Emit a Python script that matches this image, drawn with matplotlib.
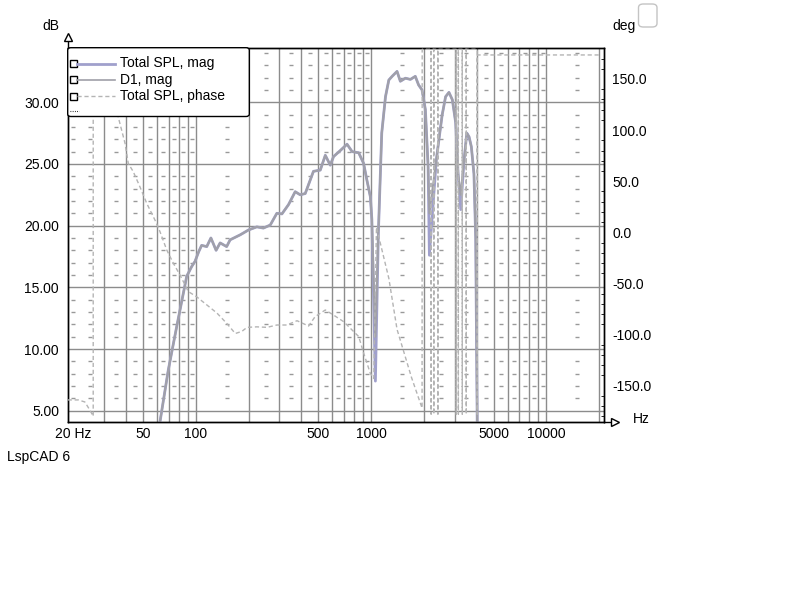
import matplotlib
matplotlib.use("Agg")
import matplotlib.pyplot as plt
from matplotlib.lines import Line2D
from matplotlib.patches import FancyBboxPatch, Rectangle
from matplotlib.ticker import NullLocator, FixedLocator

plt.rcParams["font.family"] = ["Liberation Sans", "DejaVu Sans"]

# Total SPL, mag (dB)
freq = [60, 62.5, 69.7, 77.8, 88.8, 94.9, 99, 104, 108, 115.5, 122, 130.6, 137.7, 150,
        157, 179, 200, 223, 243, 266, 290, 310, 338, 369, 394, 421, 469, 513, 548, 585,
        611, 669, 729, 779, 850, 906, 946, 990, 1010, 1058, 1100, 1150, 1208, 1262, 1318,
        1406, 1468, 1570, 1675, 1787, 1866, 1952, 2040, 2114, 2150, 2354, 2433, 2543,
        2660, 2780, 2907, 3040, 3133, 3246, 3390, 3514, 3620, 3730, 3860, 3950, 4000, 4040]
total_db = [3.0, 4.1, 8.3, 11.8, 15.9, 16.7, 17.1, 17.9, 18.4, 18.3, 19.0, 18.0, 18.6, 18.3,
            18.85, 19.25, 19.65, 19.9, 19.8, 20.05, 21.0, 20.95, 21.7, 22.75, 22.5, 22.6, 24.4,
            24.5, 25.7, 24.9, 25.6, 26.1, 26.6, 26.0, 25.9, 25.05, 23.7, 22.35, 20.5, 7.4,
            19.4, 27.5, 30.45, 31.8, 32.1, 32.5, 31.7, 31.95, 31.85, 32.1, 31.4, 31.0, 29.4,
            24.8, 17.6, 25.3, 26.9, 28.97, 30.45, 30.8, 30.2, 28.3, 24.25, 21.3, 25.3, 27.5,
            27.2, 26.4, 24.2, 19.0, 9.4, 2.0]
# D1, mag (dB)
d1_db = [3.0, 4.1, 8.3, 11.8, 15.9, 16.7, 17.1, 17.9, 18.4, 18.3, 19.0, 18.0, 18.6, 18.3,
         18.85, 19.25, 19.65, 19.9, 19.8, 20.05, 21.0, 20.95, 21.7, 22.75, 22.5, 22.6, 24.4,
         24.5, 25.7, 24.9, 25.6, 26.1, 26.6, 26.0, 25.9, 25.05, 23.7, 22.35, 20.5, 11.0,
         19.4, 27.5, 30.45, 31.8, 32.1, 32.5, 31.7, 31.95, 31.85, 32.1, 31.4, 31.0, 29.4,
         24.8, 21.0, 25.3, 26.9, 28.97, 30.45, 30.8, 30.2, 28.3, 24.25, 22.5, 25.3, 27.5,
         27.2, 26.4, 24.2, 19.0, 9.4, 2.0]

# Total SPL, phase (deg)
phase_freq = [18.6, 19.8, 21.4, 23.3, 24.9, 26.0, 26.0, 30, 34, 36.1, 39.5, 41.2, 44, 48,
              52.5, 58.5, 62.5, 68.3, 74.5, 81.3, 90.7, 101, 115.5, 132, 150, 168, 183, 196,
              223, 255, 290, 331, 378, 440, 479, 548, 611, 698, 779, 850, 906, 990, 1036,
              1073, 1262, 1406, 1700, 1953, 1956, 2195, 2200, 2202, 2275, 2280, 2282, 2400,
              2405, 2407, 3055, 3060, 3062, 3140, 3145, 3147, 3305, 3311, 3313, 3485, 3490,
              3492, 4028, 4032, 4034, 20000]
phase_deg = [-164, -164, -164, -166, -174, -180, 180, 165, 135, 113, 87, 67.5, 59.3, 44.6,
             28.4, 12, 0.6, -17.3, -30.3, -41.8, -58, -63, -71, -79, -89, -99, -97, -93,
             -92.5, -93, -90.7, -90.7, -86.5, -91.7, -82.6, -76, -81, -87.5, -95.6, -102,
             -118, -138, -143, 5, -45, -95, -142, -172, 179, 179, -178, 179, 179, -178, 179,
             179, -178, 179, 179, -178, 179, 179, -178, 179, 179, -178, 179, 179, -178, 179,
             179, -178, 173.5, 173.5]

db_ticks = [5, 10, 15, 20, 25, 30]
deg_ticks = [-150, -100, -50, 0, 50, 100, 150]
x_tick_freqs = [20, 50, 100, 500, 1000, 5000, 10000]
x_tick_labels = ["20 Hz", "50", "100", "500", "1000", "5000", "10000"]

W, H = 800, 600
def fx(px):
    return px / W
def fy(py):
    return 1 - py / H

grid_col = "#8c8c8c"
spl_col = "#a0a0cc"
d1_col = "#a0a0a8"
ph_col = "#b4b4b4"
fs = 10

fig = plt.figure(figsize=(8, 6), dpi=100)
L, R, T, B = 67.7, 604, 47.7, 421.7
ax = fig.add_axes([fx(L), fy(B), fx(R) - fx(L), (B - T) / H])
ax.set_xscale("log")
ax.set_xlim(18.6, 21300)
ax.set_ylim(4.11, 34.42)

# grid
major_x = [30, 40, 50, 60, 70, 80, 90] + [m * 100 for m in range(1, 10)] + \
          [m * 1000 for m in range(1, 10)] + [10000, 20000]
minor_x = [20, 25, 35, 45, 55, 65, 75, 85, 95] + [m * 100 + 50 for m in range(1, 10)] + \
          [m * 1000 + 500 for m in range(1, 10)] + [15000]
for f in major_x:
    ax.axvline(f, color=grid_col, lw=1, zorder=1)
for y in db_ticks:
    ax.axhline(y, color=grid_col, lw=1, zorder=1)
mx, my = [], []
for f in minor_x:
    for y in range(5, 35):
        if y % 5:
            mx.append(f)
            my.append(y)
ax.plot(mx, my, ls="none", marker="_", ms=2.5, mew=1, color="#999999", zorder=1)

ax.plot(freq, total_db, color=spl_col, lw=2.0, zorder=3)
ax.plot(freq, d1_db, color=d1_col, lw=1.5, zorder=4)

ax.xaxis.set_minor_locator(NullLocator())
ax.set_xticks(x_tick_freqs)
ax.set_xticklabels(x_tick_labels)
ax.set_yticks(db_ticks)
ax.set_yticklabels(["%.2f" % v for v in db_ticks])
ax.tick_params(axis="both", length=0, labelsize=fs, colors="black")
ax.tick_params(axis="x", pad=4)
ax.tick_params(axis="y", pad=6.3)

ax2 = ax.twinx()
ax2.set_ylim(-185.3, 180.6)
ax2.plot(phase_freq, phase_deg, color=ph_col, lw=1, dashes=(3, 2), zorder=5)
ax2.set_yticks(deg_ticks)
ax2.set_yticklabels(["%.1f" % v for v in deg_ticks])
ax2.yaxis.set_minor_locator(FixedLocator(list(range(-180, 181, 10))))
ax2.tick_params(axis="y", which="major", length=0, pad=5.8, labelsize=fs)
ax2.tick_params(axis="y", which="minor", length=2.5, direction="in", color="black")

for a in (ax, ax2):
    for s in a.spines.values():
        s.set_color("black")
        s.set_linewidth(1)

# axis arrows
fig.add_artist(Line2D([fx(L), fx(L)], [fy(T), fy(39)], color="black", lw=1))
fig.add_artist(Line2D([fx(L)], [fy(36.5)], marker="^", ms=6, mfc="white", mec="black", mew=1))
fig.add_artist(Line2D([fx(R), fx(612)], [fy(B), fy(B)], color="black", lw=1))
fig.add_artist(Line2D([fx(615)], [fy(B)], marker=">", ms=6, mfc="white", mec="black", mew=1))

fig.text(fx(50.5), fy(25.5), "dB", fontsize=fs, ha="center", va="center")
fig.text(fx(612), fy(26), "deg", fontsize=fs, ha="left", va="center")
fig.text(fx(633), fy(419), "Hz", fontsize=fs, ha="left", va="center")
fig.text(fx(7), fy(457.5), "LspCAD 6", fontsize=fs, ha="left", va="center")
fig.add_artist(FancyBboxPatch((fx(638.5), fy(27)), fx(18.5), 23 / H,
                              boxstyle="round,pad=0,rounding_size=0.006",
                              transform=fig.transFigure, fc="white", ec="#c4c4c4", lw=1))

# legend
fig.add_artist(FancyBboxPatch((fx(L), fy(116.5)), fx(249.3) - fx(L), (116.5 - T) / H,
                              boxstyle="round,pad=0,rounding_size=0.004",
                              transform=fig.transFigure, fc="white", ec="black", lw=1,
                              zorder=10))
rows = [("Total SPL, mag", spl_col, 2, "-"), ("D1, mag", d1_col, 1.2, "-"),
        ("Total SPL, phase", ph_col, 1, "--")]
for i, (lab, col, lw, ls) in enumerate(rows):
    yy = 63.5 + i * 16.3
    fig.add_artist(Rectangle((fx(69.5), fy(yy + 3.5)), fx(7), 7 / H, transform=fig.transFigure,
                             fc="white", ec="black", lw=1, zorder=11))
    ln = Line2D([fx(77), fx(115)], [fy(yy), fy(yy)], color=col, lw=lw, zorder=11)
    if ls == "--":
        ln.set_dashes((3, 2))
    fig.add_artist(ln)
    fig.text(fx(120), fy(yy), lab, fontsize=fs, ha="left", va="center", zorder=11)
dots = Line2D([fx(69.5), fx(79)], [fy(111), fy(111)], color="black", lw=0.8, zorder=11)
dots.set_dashes((0.7, 1.3))
fig.add_artist(dots)

fig.savefig("out.png", dpi=100)
